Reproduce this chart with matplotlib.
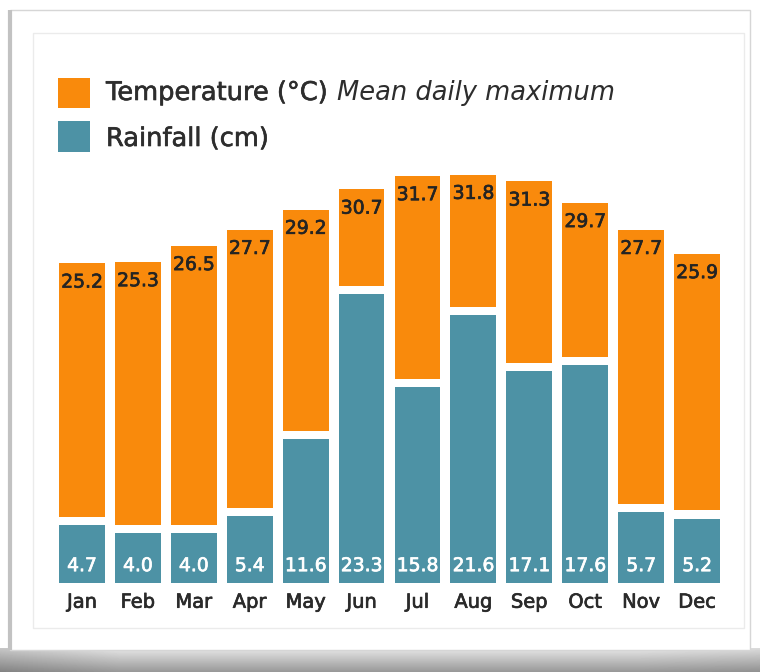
import matplotlib
matplotlib.use("Agg")
import matplotlib.pyplot as plt
import matplotlib.patheffects as pe
import numpy as np
from matplotlib.patches import Rectangle

# ---- data ----
months = ["Jan", "Feb", "Mar", "Apr", "May", "Jun",
          "Jul", "Aug", "Sep", "Oct", "Nov", "Dec"]
temperature = [25.2, 25.3, 26.5, 27.7, 29.2, 30.7, 31.7, 31.8, 31.3, 29.7, 27.7, 25.9]
rainfall = [4.7, 4.0, 4.0, 5.4, 11.6, 23.3, 15.8, 21.6, 17.1, 17.6, 5.7, 5.2]

# ---- style ----
ORANGE = "#F98A0C"
TEAL = "#4D92A5"
TEXT = "#2d2d2d"
W, H = 760, 672
plt.rcParams['font.family'] = ['DejaVu Sans']


def thick(color, lw=0.45):
    return [pe.withStroke(linewidth=lw, foreground=color)]


fig = plt.figure(figsize=(W / 100, H / 100), dpi=100, facecolor='white')

# ---- decorative background (card, shadow, panel) ----
bg = fig.add_axes([0, 0, 1, 1], zorder=-10)
bg.set_xlim(0, W)
bg.set_ylim(H, 0)
bg.axis('off')
vert = np.linspace(0.9, 0.6, 24)[:, None]
horiz = np.concatenate([np.linspace(0.86, 1.0, 120), np.ones(520), np.linspace(1.0, 0.95, 120)])[None, :]
shade = vert * horiz
bg.imshow(shade, cmap='gray', vmin=0, vmax=1, extent=(0, W, H, 648), aspect='auto', zorder=0)
bg.add_patch(Rectangle((10, 10), 740, 640, fc='white', ec='#d6d6d6', lw=1, zorder=1))
bg.plot([10, 10], [10, 650], color='#c2c2c2', lw=3, zorder=2, solid_capstyle='butt')
bg.add_patch(Rectangle((33, 33), 711, 595, fc='white', ec='#ebebeb', lw=1, zorder=2))

# legend (manual)
bg.add_patch(Rectangle((58, 78), 32, 30, fc=ORANGE, ec='none', zorder=3))
bg.add_patch(Rectangle((58, 121), 32, 31, fc=TEAL, ec='none', zorder=3))
t1 = bg.text(106, 100, "Temperature (°C)", fontsize=18.5, va='baseline', ha='left',
             color=TEXT, zorder=4, path_effects=thick(TEXT))
bg.annotate("Mean daily maximum", xy=(1, 0), xycoords=t1, xytext=(6, 0),
            textcoords='offset points', va='bottom', ha='left', fontsize=18.5,
            style='italic', color=TEXT, zorder=4)
bg.text(106, 146, "Rainfall (cm)", fontsize=18.5, va='baseline', ha='left',
        color=TEXT, zorder=4, path_effects=thick(TEXT))

# ---- chart axes ----
ax_t = fig.add_axes([54 / W, (H - 583) / H, 671 / W, 433 / H])
ax_t.patch.set_visible(False)
ax_r = ax_t.twinx()

x = np.arange(len(months))
BAR_W = 0.82
GAP = 0.65  # white gap between rainfall and temperature bars (rain units)

ax_t.bar(x, temperature, width=BAR_W, color=ORANGE, bottom=0, zorder=1)
ax_t.set_ylim(1.41, 33.63)
ax_t.set_xlim(-0.5, len(months) - 0.5)

ax_r.bar(x, np.array(rainfall) + GAP, width=BAR_W + 0.05, color='white', zorder=1)
ax_r.bar(x, rainfall, width=BAR_W, color=TEAL, zorder=2)
ax_r.set_ylim(0, 34.92)

for xi, t in zip(x, temperature):
    ax_t.annotate(f"{t:.1f}", (xi, t), xytext=(0, -13.5), textcoords='offset points',
                  ha='center', va='center', fontsize=13.5, color='#242424',
                  path_effects=thick('#242424', 0.5))
for xi, r in zip(x, rainfall):
    ax_r.annotate(f"{r:.1f}", (xi, 0), xytext=(0, 12.5), textcoords='offset points',
                  ha='center', va='center', fontsize=13.5, color='white', zorder=5,
                  path_effects=thick('white', 0.5))

ax_t.set_xticks(x, months)
ax_t.tick_params(axis='x', length=0, pad=7, labelsize=14, labelcolor='#2a2a2a')
for lab in ax_t.get_xticklabels():
    lab.set_path_effects(thick('#2a2a2a', 0.5))
ax_t.set_yticks([])
ax_r.set_yticks([])
for a in (ax_t, ax_r):
    for s in a.spines.values():
        s.set_visible(False)

fig.savefig("out.png", dpi=100, facecolor='white')
